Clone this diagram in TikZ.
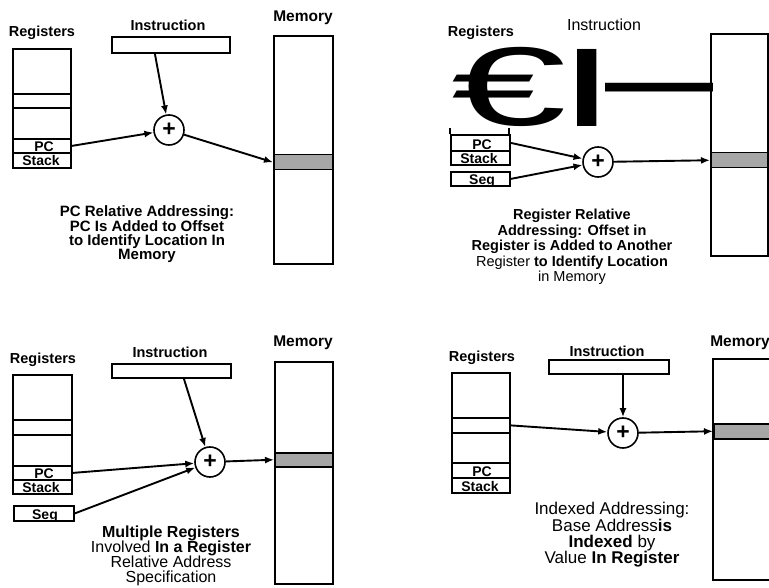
\documentclass[tikz,border=0pt]{standalone}
\usepackage{fontspec}
\setmainfont{Liberation Sans}
\usetikzlibrary{arrows.meta}
\begin{document}
\begin{tikzpicture}[x=1pt,y=-1pt,
  rbox/.style={draw, line width=1.8pt, inner sep=0, anchor=north west},
  bandst/.style={draw, line width=1.5pt, fill=black!35, inner sep=0, anchor=north west},
  lab/.style={inner sep=0, font=\fontsize{14.5}{14.5}\selectfont\bfseries},
  celltxt/.style={inner sep=0, anchor=base, font=\fontsize{14}{14}\selectfont\bfseries},
  plus/.style={circle, draw, line width=1.6pt, minimum size=30pt, inner sep=0, font=\fontsize{23}{23}\selectfont\bfseries},
  arr/.style={line width=1.9pt, -{Latex[length=9pt,width=7pt]}},
  captxt/.style={inner sep=0, align=center}]
\useasboundingbox (0,0) rectangle (769,588);

% ================= Panel 1 (top left) =================
\node[lab] (reg1lab) at (42,33) {Registers};
\node[lab] (ins1lab) at (168,25) {Instruction};
\node[lab, font=\fontsize{15.5}{15.5}\selectfont\bfseries] (mem1lab) at (303,18) {Memory};
\node[rbox, minimum width=58, minimum height=119] (reg1) at (12,48) {};
\node[rbox, minimum width=58, minimum height=14] (r1b) at (12,93) {};
\node[rbox, minimum width=58, minimum height=14] (pc1) at (12,138) {};
\node[rbox, minimum width=58, minimum height=15] (st1) at (12,152) {};
\node[celltxt] (pc1t) at (44,151.5) {PC};
\node[celltxt] (st1t) at (41,166) {Stack};
\node[rbox, minimum width=118, minimum height=16] (ins1) at (111,36) {};
\node[plus] (add1) at (169,130) {+};
\node[rbox, minimum width=59, minimum height=228] (mem1) at (273,35) {};
\node[bandst, minimum width=59, minimum height=15] (band1) at (273,154) {};
\draw[arr] ([xshift=-16pt]ins1.south) -- (add1);
\draw[arr] (pc1.east) -- (add1);
\draw[arr] (add1) -- (band1.west);
\node[captxt, font=\fontsize{15}{14}\selectfont\bfseries] (cap1) at (147,234)
  {PC Relative Addressing:\\PC Is Added to Offset\\to Identify Location In\\Memory};

% ================= Panel 2 (top right) =================
\node[lab] (reg2lab) at (481,33) {Registers};
\node[inner sep=0, font=\fontsize{16}{16}\selectfont] (ins2lab) at (604,25) {Instruction};
\draw[line width=1.8pt] (450,128) -- (450,134) (509,128) -- (509,134);
\node[rbox, minimum width=59, minimum height=16] (pc2) at (450,134) {};
\node[rbox, minimum width=59, minimum height=14] (st2) at (450,150) {};
\node[rbox, minimum width=59, minimum height=14] (seg2) at (450,171) {};
\node[celltxt] (pc2t) at (482,149.5) {PC};
\node[celltxt] (st2t) at (479,163.5) {Stack};
\node[celltxt] (seg2t) at (482,184.5) {Seg};
\node[plus] (add2) at (598,162) {+};
\node[rbox, minimum width=57, minimum height=222] (mem2) at (710,33) {};
\node[bandst, minimum width=57, minimum height=15] (band2) at (710,152) {};
\draw[arr] (pc2.east) -- (add2);
\draw[arr] (seg2.east) -- (add2);
\draw[arr] (add2) -- (band2.west);
\node[inner sep=0, anchor=base, xscale=1.85] (euro) at (509,126) {\fontsize{112}{112}\selectfont €};
\node[inner sep=0, anchor=base, xscale=1.2] (ibar) at (587,127) {\fontsize{112}{112}\selectfont\bfseries I};
\node[inner sep=0, anchor=base, yscale=1.2] (dash) at (659,121) {\fontsize{108}{108}\selectfont —};
\node[captxt, font=\fontsize{14.5}{15.5}\selectfont\bfseries] (cap2) at (572,247)
  {Register Relative\\Addressing: Offset in\\Register is Added to Another\\{\mdseries Register} to Identify Location\\{\mdseries in Memory}};

% ================= Panel 3 (bottom left) =================
\node[lab] (reg3lab) at (43,360) {Registers};
\node[lab] (ins3lab) at (170,352) {Instruction};
\node[lab, font=\fontsize{15.5}{15.5}\selectfont\bfseries] (mem3lab) at (303,343) {Memory};
\node[rbox, minimum width=59, minimum height=119] (reg3) at (12,374) {};
\node[rbox, minimum width=59, minimum height=15] (r3b) at (12,419) {};
\node[rbox, minimum width=59, minimum height=14] (pc3) at (12,465) {};
\node[rbox, minimum width=59, minimum height=14] (st3) at (12,479) {};
\node[rbox, minimum width=60, minimum height=15] (seg3) at (13,505) {};
\node[celltxt] (pc3t) at (44,478.5) {PC};
\node[celltxt] (st3t) at (41,492.5) {Stack};
\node[celltxt] (seg3t) at (45,519.5) {Seg};
\node[rbox, minimum width=119, minimum height=14] (ins3) at (111,363) {};
\node[plus] (add3) at (210,462) {+};
\node[rbox, minimum width=58, minimum height=222] (mem3) at (274,361) {};
\node[bandst, minimum width=58, minimum height=14] (band3) at (274,452) {};
\draw[arr] ([xshift=12.5pt]ins3.south) -- (add3);
\draw[arr] (pc3.east) -- (add3);
\draw[arr] (seg3.east) -- (add3);
\draw[arr] (add3) -- (band3.west);
\node[captxt, font=\fontsize{16}{15}\selectfont] (cap3) at (171,556)
  {\textbf{Multiple Registers}\\Involved \textbf{In a Register}\\Relative Address\\Specification};

% ================= Panel 4 (bottom right) =================
\node[lab] (reg4lab) at (482,358) {Registers};
\node[lab] (ins4lab) at (607,351) {Instruction};
\node[lab, font=\fontsize{15.5}{15.5}\selectfont\bfseries] (mem4lab) at (740,343) {Memory};
\node[rbox, minimum width=58, minimum height=120] (reg4) at (451,372) {};
\node[rbox, minimum width=58, minimum height=15] (idx4) at (451,417) {};
\node[rbox, minimum width=58, minimum height=15] (pc4) at (451,462) {};
\node[rbox, minimum width=58, minimum height=15] (st4) at (451,477) {};
\node[celltxt] (pc4t) at (482,476.5) {PC};
\node[celltxt] (st4t) at (480,491.5) {Stack};
\node[rbox, minimum width=120, minimum height=14] (ins4) at (548,359) {};
\node[plus] (add4) at (623,433) {+};
\draw[line width=1.8pt] (769,359) -- (713,359) -- (713,580) -- (769,580);
\node[bandst, minimum width=58, minimum height=15] (band4) at (713,423) {};
\draw[arr] (ins4.south -| add4) -- (add4);
\draw[arr] (idx4.east) -- (add4);
\draw[arr] (add4) -- (band4.west);
\node[captxt, font=\fontsize{17}{15.5}\selectfont] (cap4) at (612,535)
  {Indexed Addressing:\\Base Address\textbf{is}\\\textbf{Indexed} by\\Value \textbf{In Register}};
\end{tikzpicture}
\end{document}
